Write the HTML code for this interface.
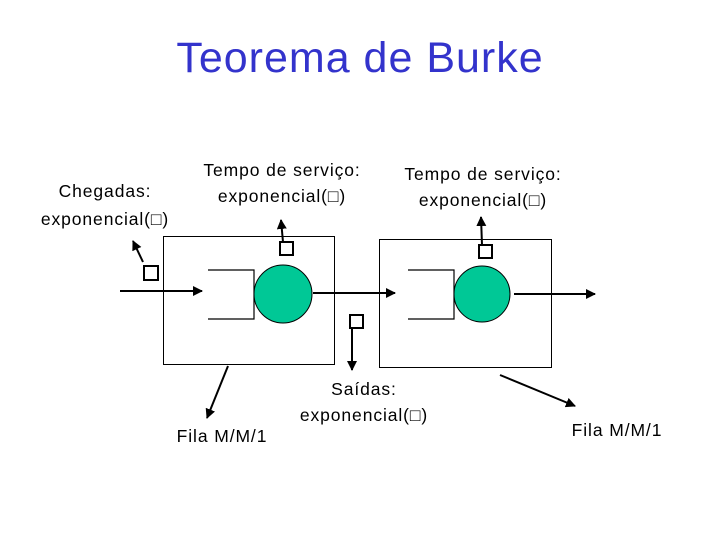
<!DOCTYPE html>
<html><head><meta charset="utf-8"><style>
html,body{margin:0;padding:0;background:#fff;}
svg{display:block;}
text{font-family:"Liberation Sans","DejaVu Sans",sans-serif;}
</style></head><body>
<svg width="720" height="540" viewBox="0 0 720 540" xmlns="http://www.w3.org/2000/svg">
<defs>
<marker id="a" markerWidth="10" markerHeight="10" refX="9" refY="5" orient="auto" markerUnits="userSpaceOnUse">
<path d="M0,0 L10,5 L0,10 Z" fill="#000"/></marker>
</defs>
<text x="360" y="72" font-size="43" text-anchor="middle" fill="#3333cc" letter-spacing="1">Teorema de Burke</text>
<g font-size="17.5" fill="#000" text-anchor="middle" letter-spacing="0.9">
<text x="105" y="197">Chegadas:</text>
<text x="105" y="225">exponencial(□)</text>
<text x="282" y="176">Tempo de serviço:</text>
<text x="282" y="202">exponencial(□)</text>
<text x="483" y="180">Tempo de serviço:</text>
<text x="483" y="206">exponencial(□)</text>
<text x="364" y="395">Saídas:</text>
<text x="364" y="421">exponencial(□)</text>
<text x="222" y="442">Fila M/M/1</text>
<text x="617" y="436">Fila M/M/1</text>
</g>
<g fill="none" stroke="#000">
<rect x="163.5" y="236.5" width="171" height="128" stroke-width="1"/>
<rect x="379.5" y="239.5" width="172" height="128" stroke-width="1"/>
<polyline points="208,270 254,270 254,319 208,319" stroke-width="1.2"/>
<polyline points="408,270 454,270 454,319 408,319" stroke-width="1.2"/>
</g>
<circle cx="283" cy="294" r="29" fill="#00c896" stroke="#000" stroke-width="1"/>
<circle cx="482" cy="294" r="28" fill="#00c896" stroke="#000" stroke-width="1"/>
<g stroke="#000" stroke-width="2" fill="none">
<line x1="120" y1="291" x2="202" y2="291" marker-end="url(#a)"/>
<line x1="313" y1="293" x2="395" y2="293" marker-end="url(#a)"/>
<line x1="514" y1="294" x2="595" y2="294" marker-end="url(#a)"/>
<line x1="143" y1="262" x2="133" y2="241" marker-end="url(#a)"/>
<line x1="283" y1="242" x2="281" y2="220" marker-end="url(#a)"/>
<line x1="482" y1="245" x2="481" y2="217" marker-end="url(#a)"/>
<line x1="352" y1="329" x2="352" y2="370" marker-end="url(#a)"/>
<line x1="228" y1="366" x2="207" y2="418" marker-end="url(#a)"/>
<line x1="500" y1="375" x2="575" y2="406" marker-end="url(#a)"/>
</g>
<g fill="#fff" stroke="#000" stroke-width="2">
<rect x="144" y="266" width="14" height="14"/>
<rect x="280" y="242" width="13" height="13"/>
<rect x="479" y="245" width="13" height="13"/>
<rect x="350" y="315" width="13" height="13"/>
</g>
</svg>
</body></html>
